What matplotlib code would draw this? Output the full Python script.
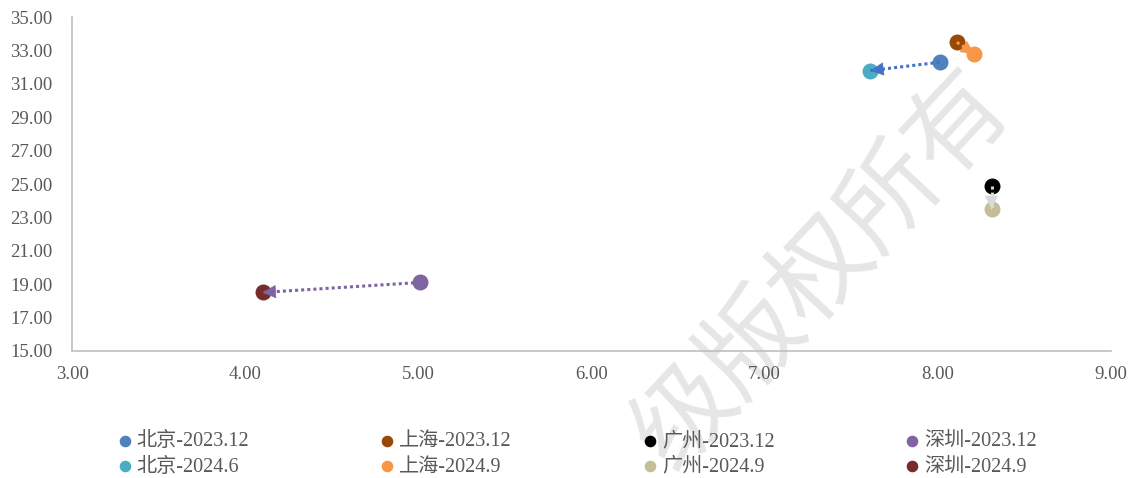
import matplotlib.pyplot as plt

plt.rcParams['font.family'] = ['Liberation Serif', 'Noto Sans CJK SC']

# 各城市两期数据 (x, y)
labels_old = ['北京-2023.12', '上海-2023.12', '广州-2023.12', '深圳-2023.12']
labels_new = ['北京-2024.6', '上海-2024.9', '广州-2024.9', '深圳-2024.9']
x_old = [8.01, 8.11, 8.31, 5.01]
y_old = [32.3, 33.5, 24.9, 19.1]
x_new = [7.61, 8.21, 8.31, 4.10]
y_new = [31.8, 32.8, 23.5, 18.5]

c_old = ['#4F81BD', '#984807', '#000000', '#8064A2']
c_new = ['#4BACC6', '#F79646', '#C4BD97', '#772C2A']
c_arrow = ['#4472C4', '#F79646', '#D9D9D9', '#8064A2']

fig = plt.figure(figsize=(11.36, 4.78), dpi=100)
ax = fig.add_axes([0.0634, 0.266, 0.9146, 0.698])

# watermark
fig.text(0.7236, 0.435, '级版权所有', fontsize=72, color='#E6E6E6', rotation=47,
         ha='center', va='center', zorder=-1, family=['Noto Sans CJK SC'],
         fontweight='light')

handles = []
for i in range(4):
    h1 = ax.scatter(x_old[i], y_old[i], s=110, color=c_old[i], zorder=3, label=labels_old[i])
    h2 = ax.scatter(x_new[i], y_new[i], s=110, color=c_new[i], zorder=3, label=labels_new[i])
    handles += [h1, h2]

for i in range(4):
    ax.plot([x_old[i], x_new[i]], [y_old[i], y_new[i]], color=c_arrow[i],
            lw=2.2, ls=(0, (1, 1)), zorder=4)
    # arrow head only
    fx = x_old[i] + 0.97 * (x_new[i] - x_old[i])
    fy = y_old[i] + 0.97 * (y_new[i] - y_old[i])
    ax.annotate('', xy=(x_new[i], y_new[i]), xytext=(fx, fy),
                arrowprops=dict(arrowstyle='-|>', color=c_arrow[i], lw=0.5,
                                mutation_scale=22, shrinkA=0, shrinkB=0),
                zorder=5)

ax.set_xlim(3, 9)
ax.set_ylim(15, 35)
ax.set_xticks([3, 4, 5, 6, 7, 8, 9])
ax.set_yticks(range(15, 36, 2))
ax.xaxis.set_major_formatter(lambda v, p: f'{v:.2f}')
ax.yaxis.set_major_formatter(lambda v, p: f'{v:.2f}')
ax.tick_params(length=0, labelsize=13.5, labelcolor='#595959')
ax.tick_params(axis='x', pad=11)
ax.tick_params(axis='y', pad=14)
for s in ['top', 'right']:
    ax.spines[s].set_visible(False)
for s in ['left', 'bottom']:
    ax.spines[s].set_color('#BFBFBF')
    ax.spines[s].set_linewidth(1.2)
ax.patch.set_alpha(0)

leg = fig.legend(handles=handles, ncol=4, loc='lower center', bbox_to_anchor=(0.506, -0.035),
                 frameon=False, fontsize=14.5, handletextpad=0.0, columnspacing=6.25,
                 labelspacing=0.3, markerscale=0.7, handlelength=1.2)
for t in leg.get_texts():
    t.set_color('#595959')

fig.savefig('out.png', dpi=100)
